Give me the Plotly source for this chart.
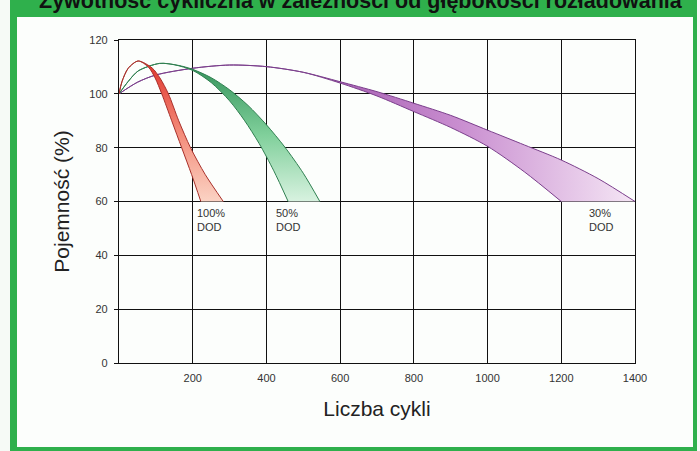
import plotly.graph_objects as go

# ---- data ----
x_ticks = [200, 400, 600, 800, 1000, 1200, 1400]
y_ticks = [0, 20, 40, 60, 80, 100, 120]

red_inner_x = [0, 8, 25, 52, 80, 98, 116, 143, 170, 197, 222]
red_inner_y = [100, 104.5, 109.5, 112.2, 109.9, 105.9, 100, 90, 80, 70, 60]
red_outer_x = [0, 8, 25, 52, 90, 111, 134, 162, 194, 234, 283]
red_outer_y = [100, 104.5, 109.5, 112.2, 109.6, 105.9, 100, 90, 80, 70, 60]

green_inner_x = [0, 25, 52, 110, 150, 200, 250, 300, 340, 380, 420, 459]
green_inner_y = [100, 104.6, 108.5, 111.3, 110.8, 108.7, 104.2, 97.4, 90.2, 81.6, 71.4, 60]
green_outer_x = [0, 25, 52, 110, 160, 200, 250, 300, 350, 400, 450, 500, 545]
green_outer_y = [100, 104.6, 108.5, 111.3, 110.6, 109.1, 106, 101.5, 95.7, 88.5, 80.2, 70.5, 60]

purple_inner_x = [0, 50, 100, 200, 300, 400, 500, 600, 700, 800, 900, 1000, 1100, 1200]
purple_inner_y = [100, 104.3, 107, 109.5, 110.7, 110.1, 108, 104, 99.2, 93.4, 87.5, 80.5, 71, 60]
purple_outer_x = [0, 50, 100, 200, 300, 400, 500, 600, 700, 800, 900, 1000, 1100, 1200, 1300, 1400]
purple_outer_y = [100, 104.3, 107, 109.5, 110.7, 110.1, 108, 104.5, 100.8, 96.5, 92, 86.5, 81, 75.4, 68.5, 60]

labels = ["100%<br>DOD", "50%<br>DOD", "30%<br>DOD"]
label_x = [207, 421, 1270]

title_text = "Żywotność cykliczna w zależności od głębokości rozładowania"

FONT = "Arial, Liberation Sans, sans-serif"

fig = go.Figure()

def band(ix, iy, ox, oy, line_col, grad):
    fig.add_trace(go.Scatter(x=ix, y=iy, mode="lines", line=dict(color=line_col, width=1, shape="spline", smoothing=0.8),
                             hoverinfo="skip", showlegend=False))
    fig.add_trace(go.Scatter(x=ox, y=oy, mode="lines", line=dict(color=line_col, width=1, shape="spline", smoothing=0.8),
                             fill="tonexty", fillgradient=grad, hoverinfo="skip", showlegend=False))

band(purple_inner_x, purple_inner_y, purple_outer_x, purple_outer_y, "#7b3f8c",
     dict(type="horizontal", start=450, stop=1400,
          colorscale=[[0, "#9a4fa8"], [0.5, "#c98ed0"], [1, "#f5e6f5"]]))
band(green_inner_x, green_inner_y, green_outer_x, green_outer_y, "#2f7f50",
     dict(type="vertical", start=60, stop=110,
          colorscale=[[0, "#d8f2e0"], [0.5, "#7fcf9a"], [1, "#35945c"]]))
band(red_inner_x, red_inner_y, red_outer_x, red_outer_y, "#a8302a",
     dict(type="vertical", start=60, stop=112,
          colorscale=[[0, "#fbd3c4"], [0.5, "#f38a78"], [1, "#e0352c"]]))

for t, lx in zip(labels, label_x):
    fig.add_annotation(x=lx, y=60, text=t, showarrow=False, xanchor="left", yanchor="top",
                       align="left", yshift=-3, font=dict(family=FONT, size=11, color="#333333"))

# frame (pixel -> paper conversion from plot-area geometry)
L, R, T, B, W, H = 119, 65, 40, 88, 700, 451
pw, ph = W - L - R, H - T - B
def px(x):
    return (x - L) / pw
def py(y):
    return (H - B - y) / ph

fig.add_shape(type="rect", xref="paper", yref="paper", x0=px(10), x1=px(697), y0=py(451), y1=py(0),
              fillcolor="#2fb04c", line_width=0, layer="below")
fig.add_shape(type="rect", xref="paper", yref="paper", x0=px(17), x1=px(693), y0=py(447), y1=py(17),
              fillcolor="#fcfefc", line_width=0, layer="below")

fig.add_annotation(xref="paper", yref="paper", x=px(361), y=py(1), text="<b>" + title_text + "</b>",
                   showarrow=False, xanchor="center", yanchor="middle",
                   font=dict(family=FONT, size=21.5, color="#111111"))

fig.update_layout(
    width=W, height=H,
    margin=dict(l=L, r=R, t=T, b=B, autoexpand=False),
    paper_bgcolor="#f6faf6", plot_bgcolor="#ffffff",
    font=dict(family=FONT, color="#333333"),
)
fig.update_xaxes(range=[0, 1400], tickvals=x_ticks, ticktext=[str(v) for v in x_ticks],
                 showgrid=True, gridcolor="#111111", gridwidth=1.3, zeroline=False,
                 showline=True, linecolor="#111111", linewidth=1.3, mirror=True,
                 ticks="", ticklabelstandoff=5, tickfont=dict(size=11, color="#333333"),
                 title=dict(text="Liczba cykli", font=dict(size=21, color="#222222"), standoff=17))
fig.update_yaxes(range=[0, 120], tickvals=y_ticks, showgrid=True, gridcolor="#111111", gridwidth=1.3,
                 zeroline=False, showline=True, linecolor="#111111", linewidth=1.3, mirror=True,
                 ticks="outside", ticklen=4, tickcolor="#111111", ticklabelstandoff=4,
                 tickfont=dict(size=11, color="#333333"),
                 title=dict(text="Pojemność (%)", font=dict(size=21, color="#222222"), standoff=13))

fig.write_html("out.html", config={"displayModeBar": False},
               post_script="document.body.style.margin='0px';")
